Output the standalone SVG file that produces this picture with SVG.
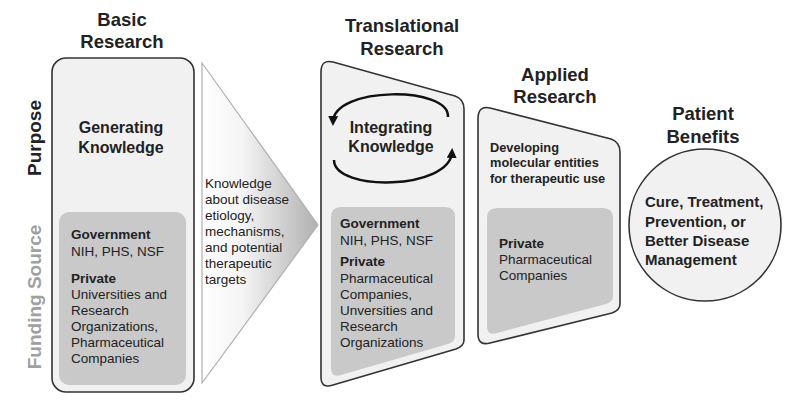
<svg xmlns="http://www.w3.org/2000/svg" width="801" height="406" viewBox="0 0 801 406">
<style>
text{font-family:"Liberation Sans",Arial,sans-serif;fill:#222}
.t{font-size:18.5px;font-weight:bold;text-anchor:middle}
.h{font-size:16px;font-weight:bold;text-anchor:middle}
.b{font-size:13.5px;font-weight:bold}
.n{font-size:13.5px}
.box{fill:#f1f1f1;stroke:#333;stroke-width:1.6}
.in{fill:#c9c9c9;stroke:none}
.arc{fill:none;stroke:#111;stroke-width:2.5}
</style>
<defs>
<linearGradient id="tg" x1="0" y1="0" x2="1" y2="0">
<stop offset="0" stop-color="#ffffff"/>
<stop offset="0.35" stop-color="#f4f4f4"/>
<stop offset="1" stop-color="#b0b0b0"/>
</linearGradient>
<marker id="ah" viewBox="0 0 10 10" refX="6" refY="5" markerWidth="4" markerHeight="4" orient="auto" markerUnits="strokeWidth">
<path d="M0,0 L10,5 L0,10 z" fill="#111"/>
</marker>
</defs>

<g id="labels">
<text transform="translate(41,138) rotate(-90)" style="font-size:19px;font-weight:bold;text-anchor:middle">Purpose</text>
<text transform="translate(41,297) rotate(-90)" style="font-size:19px;font-weight:bold;text-anchor:middle;fill:#a0a0a0">Funding Source</text>
</g>

<g id="basic">
<text class="t" x="122" y="26">Basic</text>
<text class="t" x="122" y="48">Research</text>
<rect class="box" x="52" y="58" width="142" height="334" rx="14"/>
<rect class="in" x="59" y="212" width="127" height="173" rx="10"/>
<text class="h" x="121" y="133">Generating</text>
<text class="h" x="121" y="153">Knowledge</text>
<text class="b" x="71" y="239">Government</text>
<text class="n" x="71" y="256">NIH, PHS, NSF</text>
<text class="b" x="71" y="283">Private</text>
<text class="n" x="71" y="299">Universities and</text>
<text class="n" x="71" y="315">Research</text>
<text class="n" x="71" y="331">Organizations,</text>
<text class="n" x="71" y="347">Pharmaceutical</text>
<text class="n" x="71" y="363">Companies</text>
</g>

<g id="knowledge-arrow">
<polygon points="202,63 318,225 202,383" fill="url(#tg)" stroke="#b0b0b0" stroke-width="1.2"/>
<text class="n" x="205" y="188">Knowledge</text>
<text class="n" x="205" y="204">about disease</text>
<text class="n" x="205" y="220">etiology,</text>
<text class="n" x="205" y="236">mechanisms,</text>
<text class="n" x="205" y="252">and potential</text>
<text class="n" x="205" y="268">therapeutic</text>
<text class="n" x="205" y="284">targets</text>
</g>

<g id="translational">
<text class="t" x="402" y="32">Translational</text>
<text class="t" x="402" y="55">Research</text>
<path class="box" d="M321,72 Q321,59 333,62 L455,96 Q464,99 464,109 L464,340 Q464,346 456,349 L333,385 Q321,389 321,377 Z"/>
<path class="in" d="M331,217 Q331,207 341,207 L445,207 Q455,207 455,217 L455,336 Q455,342 448,344 L341,375 Q331,378 331,368 Z"/>
<text class="h" x="391" y="133">Integrating</text>
<text class="h" x="391" y="152">Knowledge</text>
<text class="b" x="340" y="228">Government</text>
<text class="n" x="340" y="245">NIH, PHS, NSF</text>
<text class="b" x="340" y="266">Private</text>
<text class="n" x="340" y="283">Pharmaceutical</text>
<text class="n" x="340" y="299">Companies,</text>
<text class="n" x="340" y="315">Unversities and</text>
<text class="n" x="340" y="331">Research</text>
<text class="n" x="340" y="347">Organizations</text>
</g>

<g id="applied">
<text class="t" x="555" y="81">Applied</text>
<text class="t" x="555" y="103">Research</text>
<path class="box" d="M478,119 Q478,105 490,108 L611,139 Q620,142 620,152 L620,304 Q620,310 612,313 L490,343 Q478,346 478,334 Z"/>
<path class="in" d="M487,218 Q487,208 497,208 L603,208 Q613,208 613,218 L613,296 Q613,302 606,304 L497,333 Q487,336 487,326 Z"/>
<text x="490" y="152" style="font-size:12.8px;font-weight:bold">Developing</text>
<text x="490" y="167" style="font-size:12.8px;font-weight:bold">molecular entities</text>
<text x="490" y="183" style="font-size:12.8px;font-weight:bold">for therapeutic use</text>
<text class="b" x="499" y="248">Private</text>
<text class="n" x="499" y="264">Pharmaceutical</text>
<text class="n" x="499" y="280">Companies</text>
</g>

<g id="patient">
<text class="t" x="703" y="120">Patient</text>
<text class="t" x="703" y="143">Benefits</text>
<circle class="box" cx="705" cy="225" r="76"/>
<text x="645" y="207" style="font-size:15px;font-weight:bold">Cure, Treatment,</text>
<text x="645" y="227" style="font-size:15px;font-weight:bold">Prevention, or</text>
<text x="645" y="246" style="font-size:15px;font-weight:bold">Better Disease</text>
<text x="645" y="265" style="font-size:15px;font-weight:bold">Management</text>
</g>

<g id="connectors">
<path class="arc" d="M448,117 C450,86 334,86 333,122" marker-end="url(#ah)"/>
<path class="arc" d="M334,160 C334,192 450,190 452,152" marker-end="url(#ah)"/>
</g>
</svg>
